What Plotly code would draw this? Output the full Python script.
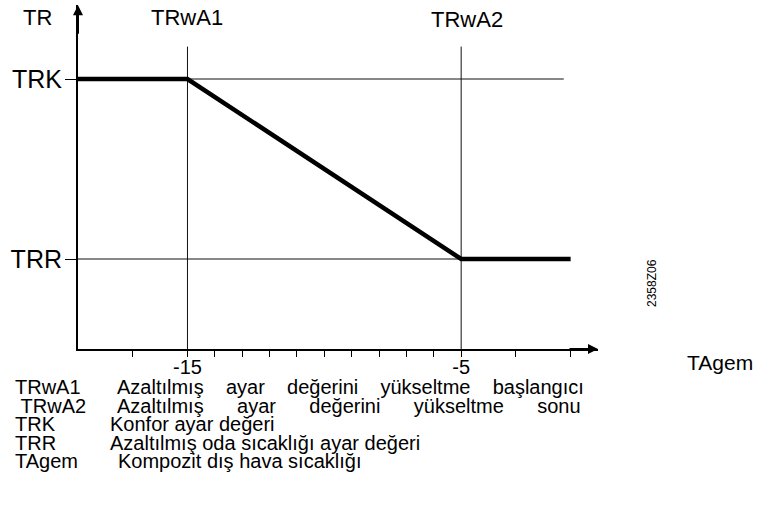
import plotly.graph_objects as go

# --- data -------------------------------------------------------------
TRK = 2          # comfort setpoint level
TRR = 1          # reduced setpoint level
TRWA1 = -15      # start of raising the reduced setpoint
TRWA2 = -5       # end of raising the reduced setpoint

curve_ta = [-19, -15, -5, -1]
curve_tr = [2, 2, 1, 1]

x_tick_vals = [-17, -15, -14, -13, -12, -11, -10, -9, -8, -7, -6, -5, -3, -1]
x_tick_text = ["", "-15", "", "", "", "", "", "", "", "", "", "-5", "", ""]
y_tick_vals = [1, 2]
y_tick_text = ["TRR", "TRK"]

guide_x = [TRWA1, TRWA2]
guide_top = 2.18
level_end = -1.25

NB = "\u00a0"
legend_keys = ["TRwA1", NB + "TRwA2", "TRK", "TRR", "TAgem"]
legend_words = [
    ["Azaltılmış", "ayar", "değerini", "yükseltme", "başlangıcı"],
    ["Azaltılmış", "ayar", "değerini", "yükseltme", "sonu"],
    ["Konfor", "ayar", "değeri"],
    ["Azaltılmış", "oda", "sıcaklığı", "ayar", "değeri"],
    ["Kompozit", "dış", "hava", "sıcaklığı"],
]
legend_gaps = [4, 6, 1, 1, 1]   # spaces between words (justified rows)

# --- layout geometry ----------------------------------------------------
W, H = 757, 520
X_RANGE = [-19, 0]
Y_RANGE = [0.5, 2.41]
FONT = "Liberation Sans, Arial, sans-serif"


def py(y):
    return 259 - (y - 1) * 180


def paper_x(p):
    return p / W


def paper_y(p):
    return 1 - p / H


fig = go.Figure()

# thin guide lines at TRwA1 / TRwA2 and at the two setpoint levels
for gx in guide_x:
    fig.add_trace(go.Scatter(x=[gx, gx], y=[Y_RANGE[0], guide_top], mode="lines",
                             line=dict(color="#111", width=1), hoverinfo="skip"))
for lv in (TRK, TRR):
    fig.add_trace(go.Scatter(x=[X_RANGE[0], level_end], y=[lv, lv], mode="lines",
                             line=dict(color="#111", width=1), hoverinfo="skip"))

# heating curve
fig.add_trace(go.Scatter(x=curve_ta, y=curve_tr, mode="lines",
                         line=dict(color="black", width=4.5), hoverinfo="skip",
                         cliponaxis=False))

ann = []
# axis arrowheads
ann.append(dict(x=X_RANGE[0], y=Y_RANGE[1], xref="x", yref="y", ax=0, ay=30,
                text="", showarrow=True, arrowhead=2, arrowsize=1, arrowwidth=2,
                arrowcolor="black", standoff=0))
ann.append(dict(x=X_RANGE[1], y=Y_RANGE[0], xref="x", yref="y", ax=-30, ay=0,
                text="", showarrow=True, arrowhead=2, arrowsize=1, arrowwidth=2,
                arrowcolor="black", standoff=0))


def label(text, x, y, size, xref="paper", xanchor="center", **kw):
    ann.append(dict(x=x, y=paper_y(y), xref=xref, yref="paper",
                    xanchor=xanchor, yanchor="middle", text=text, showarrow=False,
                    font=dict(size=size, color="black", family=FONT), **kw))


# axis titles and point labels
label("TR", paper_x(37), 18, 22)
label("TRwA1", TRWA1, 18, 22, xref="x")
label("TRwA2", TRWA2, 20, 22, xref="x", xshift=6)
label("TAgem", paper_x(755), 362, 21, xanchor="right")
label("2358Z06", paper_x(652), 283, 12, textangle=-90)

# explanation lines below the diagram
row_y = [387, 405.5, 424, 442.5, 461]
key_x = [13, 13, 13, 13, 13]
text_x = [115, 115, 108, 108, 116]
for k, words, gap, ry, kx, tx in zip(legend_keys, legend_words, legend_gaps,
                                     row_y, key_x, text_x):
    label(k, paper_x(kx), ry, 20, xanchor="left")
    sep = " " if gap == 1 else NB * gap
    label(sep.join(words), paper_x(tx), ry, 20, xanchor="left")

fig.update_layout(
    width=W, height=H,
    margin=dict(l=0, r=0, t=0, b=0),
    paper_bgcolor="white", plot_bgcolor="white",
    showlegend=False,
    annotations=ann,
    xaxis=dict(domain=[paper_x(78), paper_x(598)], range=X_RANGE,
               showline=True, linecolor="black", linewidth=2,
               ticks="outside", ticklen=6, tickwidth=1, tickcolor="black",
               tickvals=x_tick_vals, ticktext=x_tick_text,
               tickfont=dict(size=20, color="black", family=FONT),
               ticklabelstandoff=-7,
               showgrid=False, zeroline=False, fixedrange=True),
    yaxis=dict(domain=[paper_y(py(Y_RANGE[0])), paper_y(py(Y_RANGE[1]))], range=Y_RANGE,
               showline=True, linecolor="black", linewidth=2,
               ticks="outside", ticklen=11, tickwidth=1, tickcolor="black",
               tickvals=y_tick_vals, ticktext=y_tick_text,
               tickfont=dict(size=25, color="black", family=FONT),
               ticklabelstandoff=-2,
               showgrid=False, zeroline=False, fixedrange=True),
)

fig.write_html("out.html", config=dict(displayModeBar=False))
